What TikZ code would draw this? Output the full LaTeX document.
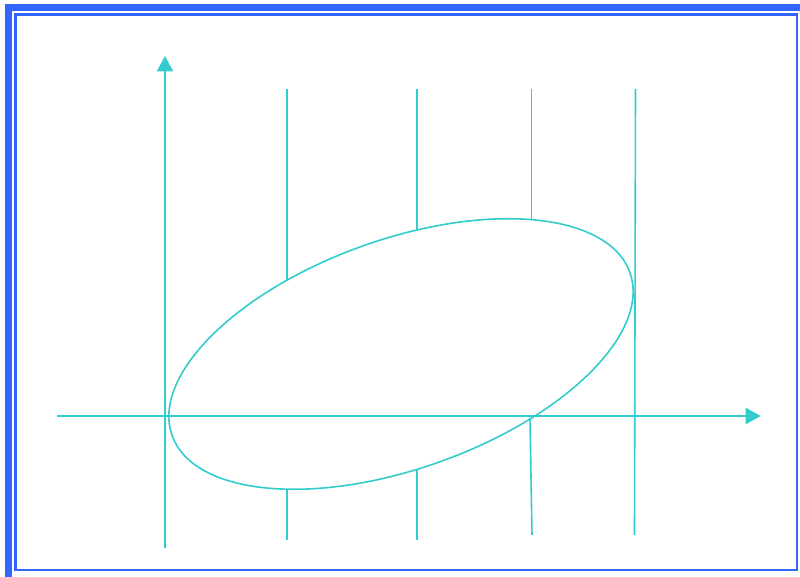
\documentclass[tikz,border=0pt]{standalone}
\usetikzlibrary{arrows.meta}
\definecolor{frblue}{HTML}{3366FF}
\definecolor{axteal}{HTML}{33CCCC}

\begin{document}
\begin{tikzpicture}[
 x=0.75pt,y=-0.75pt,
 frame/.style={draw=frblue,line width=5.25pt},
 inframe/.style={draw=frblue,line width=1.8pt},
 axis/.style={draw=axteal,line width=1.5pt,-{Triangle[length=11.5pt,width=12pt]}},
 guide/.style={draw=axteal,line width=1.2pt},
 curve/.style={draw=axteal,line width=1.2pt}]
\useasboundingbox (0,0) rectangle (800,577);
% frame
\draw[frame] (8.5,7.5) rectangle (806,580);
\draw[inframe] (15.5,14.5) rectangle (797,570);
% axes
\coordinate (xs) at (57,416);
\coordinate (xe) at (761,416);
\coordinate (ys) at (165,548);
\coordinate (ye) at (165,56);
\draw[axis] (xs)--(xe);
\draw[axis] (ys)--(ye);
% ellipse
\coordinate (c) at (401,354);
\draw[curve,rotate around={19.6:(c)}] (c) ellipse [x radius=243,y radius=114.6];
% guide lines
\coordinate (g1t) at (287,89);  \coordinate (g1a) at (287,280.5);
\coordinate (g1b) at (287,489.5); \coordinate (g1e) at (287,540);
\coordinate (g2t) at (417,89);  \coordinate (g2a) at (417,230.5);
\coordinate (g2b) at (417,469.5); \coordinate (g2e) at (417,540);
\coordinate (g3t) at (531.5,89);  \coordinate (g3a) at (531.5,219.5);
\coordinate (g3b) at (530,418); \coordinate (g3e) at (532,535);
\coordinate (g4t) at (635.5,89); \coordinate (g4e) at (634.5,535);
\draw[guide] (g1t)--(g1a); \draw[guide] (g1b)--(g1e);
\draw[guide] (g2t)--(g2a); \draw[guide] (g2b)--(g2e);
\draw[guide] (g3t)--(g3a); \draw[guide] (g3b)--(g3e);
\draw[guide] (g4t)--(g4e);
\end{tikzpicture}
\end{document}
